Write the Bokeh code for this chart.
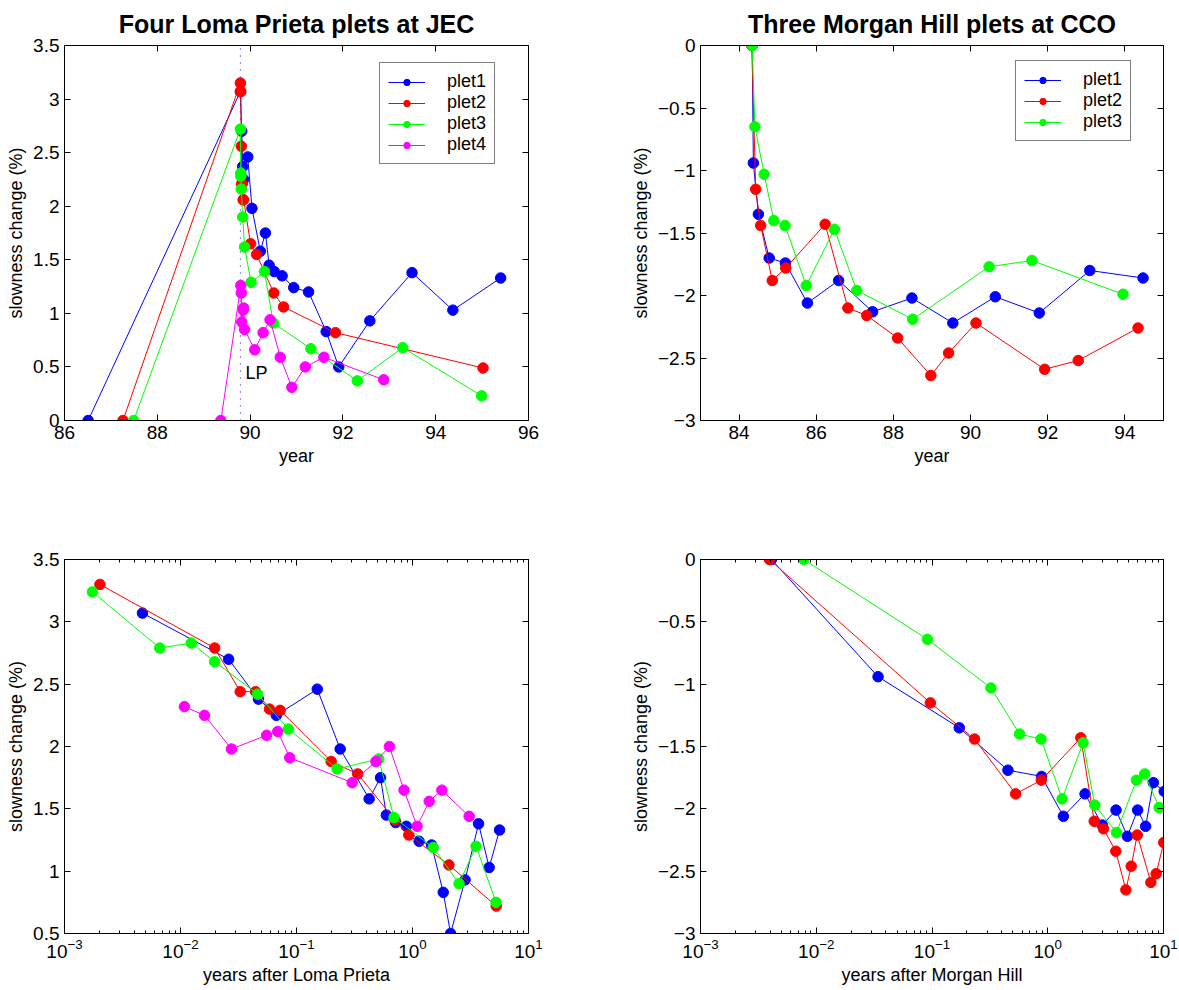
from bokeh.plotting import figure
from bokeh.models import (FixedTicker, LinearAxis, LogAxis, Legend, LegendItem,
                          Range1d, CustomJSTickFormatter, Label)
from bokeh.layouts import gridplot
from bokeh.embed import file_html
from bokeh.resources import INLINE

FONT = "Liberation Sans"

# ---------------- data: Loma Prieta plets at JEC (decimal year) ----------------
LP_YEAR = 89.79
jec1_year = [86.51, 89.79, 89.82, 89.84, 89.86, 89.95, 90.04, 90.22, 90.33, 90.41, 90.52,
             90.69, 90.94, 91.26, 91.64, 91.91, 92.58, 93.49, 94.37, 95.40]
jec1_slow = [0, 3.07, 2.70, 2.37, 2.25, 2.46, 1.98, 1.58, 1.75, 1.45, 1.39,
             1.35, 1.24, 1.20, 0.83, 0.50, 0.93, 1.38, 1.03, 1.33]
jec2_year = [87.26, 89.79, 89.80, 89.81, 89.82, 89.83, 89.85, 89.86, 90.01, 90.14, 90.51,
             90.72, 91.84, 95.02]
jec2_slow = [0, 3.15, 3.07, 2.56, 2.21, 2.21, 2.06, 2.06, 1.65, 1.55, 1.19, 1.06, 0.82, 0.49]
jec3_year = [87.49, 89.79, 89.80, 89.80, 89.81, 89.84, 89.88, 90.02, 90.31, 90.50, 91.31,
             92.31, 93.29, 94.99]
jec3_slow = [0, 2.72, 2.28, 2.31, 2.16, 1.90, 1.62, 1.29, 1.39, 0.91, 0.67, 0.37, 0.68, 0.23]
jec4_year = [89.37, 89.80, 89.81, 89.82, 89.85, 89.86, 89.88, 90.10, 90.28, 90.43, 90.65,
             90.90, 91.19, 91.59, 92.88]
jec4_slow = [0, 1.26, 1.19, 0.92, 1.03, 1.05, 0.85, 0.66, 0.82, 0.94, 0.59, 0.31, 0.50, 0.59, 0.38]

# ---------------- data: Morgan Hill plets at CCO (decimal year) ----------------
cco1_year = [84.34, 84.37, 84.50, 84.78, 85.20, 85.77, 86.58, 87.46, 88.48, 89.54, 90.64,
             91.78, 93.09, 94.47]
cco1_slow = [0, -0.94, -1.35, -1.70, -1.74, -2.06, -1.88, -2.13, -2.02, -2.22, -2.01,
             -2.14, -1.80, -1.86]
cco2_year = [84.33, 84.43, 84.56, 84.86, 85.21, 86.23, 86.82, 87.31, 88.11, 88.97, 89.43,
             90.14, 91.92, 92.79, 94.34]
cco2_slow = [0, -1.15, -1.44, -1.88, -1.78, -1.43, -2.10, -2.16, -2.34, -2.64, -2.46,
             -2.22, -2.59, -2.52, -2.26]
cco3_year = [84.34, 84.41, 84.65, 84.90, 85.19, 85.74, 86.47, 87.05, 88.50, 90.48, 91.59, 93.95]
cco3_slow = [0, -0.65, -1.03, -1.40, -1.44, -1.92, -1.47, -1.96, -2.19, -1.77, -1.72, -1.99]

# ---------------- data: years after Loma Prieta ----------------
lp1_t = [0.0047, 0.026, 0.047, 0.067, 0.151, 0.238, 0.423, 0.53, 0.595, 0.716, 0.885,
         1.14, 1.46, 1.84, 2.13, 2.84, 3.71, 4.58, 5.63]
lp1_slow = [3.07, 2.70, 2.38, 2.25, 2.46, 1.98, 1.58, 1.75, 1.45, 1.39, 1.36,
            1.24, 1.21, 0.83, 0.50, 0.93, 1.38, 1.03, 1.33]
lp2_t = [0.00202, 0.0197, 0.0327, 0.0444, 0.0585, 0.0723, 0.199, 0.337, 0.706, 0.929, 2.06, 5.27]
lp2_slow = [3.30, 2.79, 2.44, 2.44, 2.30, 2.29, 1.88, 1.78, 1.41, 1.29, 1.05, 0.72]
lp3_t = [0.00174, 0.00662, 0.0124, 0.0197, 0.0463, 0.0851, 0.224, 0.512, 0.692, 1.51,
         2.52, 3.53, 5.25]
lp3_slow = [3.24, 2.79, 2.83, 2.68, 2.42, 2.14, 1.82, 1.90, 1.43, 1.19, 0.90, 1.20, 0.75]
lp4_t = [0.0108, 0.0161, 0.0275, 0.0553, 0.0689, 0.0875, 0.302, 0.484, 0.632, 0.845,
         1.095, 1.393, 1.79, 3.08]
lp4_slow = [2.32, 2.25, 1.98, 2.09, 2.12, 1.91, 1.71, 1.88, 2.00, 1.65, 1.36, 1.56, 1.65, 1.44]

# ---------------- data: years after Morgan Hill ----------------
mh1_t = [0.0041, 0.0342, 0.172, 0.453, 0.885, 1.364, 2.10, 2.96, 3.89, 4.87, 5.98, 7.01,
         8.17, 10.14]
mh1_slow = [0, -0.94, -1.35, -1.69, -1.74, -2.06, -1.88, -2.13, -2.01, -2.22, -2.01, -2.14,
            -1.79, -1.86]
mh2_t = [0.00394, 0.0968, 0.233, 0.528, 0.88, 1.93, 2.52, 3.03, 3.87, 4.73, 5.26, 5.93,
         7.78, 8.64, 10.05]
mh2_slow = [0, -1.15, -1.44, -1.88, -1.77, -1.43, -2.10, -2.16, -2.34, -2.65, -2.46, -2.21,
            -2.59, -2.52, -2.27]
mh3_t = [0.0078, 0.0912, 0.323, 0.571, 0.875, 1.33, 2.02, 2.55, 3.92, 5.83, 6.88, 9.17]
mh3_slow = [0, -0.64, -1.03, -1.40, -1.44, -1.92, -1.47, -1.97, -2.19, -1.77, -1.72, -1.99]

labels = ["plet1", "plet2", "plet3", "plet4"]
colors = ["#0000ff", "#ff0000", "#00ff00", "#ff00ff"]

tl_xticks = [86, 88, 90, 92, 94, 96]
tl_yticks = [0, 0.5, 1, 1.5, 2, 2.5, 3, 3.5]
tr_xticks = [84, 86, 88, 90, 92, 94]
tr_yticks = [-3, -2.5, -2, -1.5, -1, -0.5, 0]
bl_yticks = [0.5, 1, 1.5, 2, 2.5, 3, 3.5]
log_ticks = [1e-3, 1e-2, 1e-1, 1e0, 1e1]
log_minor = [m * 10.0 ** e for e in range(-3, 1) for m in range(2, 10)]

fmt_code = "return tick.toString().replace('-', '\\u2212');"
TICK_FS = "19px"
LABEL_FS = "18px"


def make_fig(w, h, xr, yr, bl, br, bt, bb, log=False, title=None):
    p = figure(width=w, height=h, x_range=Range1d(*xr), y_range=Range1d(*yr),
               x_axis_type="log" if log else "linear",
               output_backend="svg", toolbar_location=None,
               min_border_left=bl, min_border_right=br, min_border_top=bt,
               min_border_bottom=bb)
    p.grid.visible = False
    p.outline_line_color = "black"
    p.background_fill_color = "white"
    p.border_fill_color = "white"
    if title:
        p.title.text = title
        p.title.align = "center"
        p.title.vertical_align = "top"
        p.title.text_font = FONT
        p.title.text_font_size = "25px"
        p.title.text_font_style = "bold"
        p.title.text_color = "black"
        p.title.standoff = 12
    return p


def style_axis(ax, ticker, show_labels=True, log=False):
    ax.ticker = ticker
    ax.major_tick_in = 6
    ax.major_tick_out = 0
    ax.minor_tick_in = 3
    ax.minor_tick_out = 0
    ax.axis_line_color = "black"
    ax.major_tick_line_color = "black"
    ax.minor_tick_line_color = "black"
    ax.major_label_text_font = FONT
    ax.axis_label_text_font = FONT
    ax.axis_label_text_font_style = "normal"
    ax.axis_label_text_font_size = LABEL_FS
    ax.axis_label_text_color = "black"
    ax.major_label_standoff = 5
    ax.axis_label_standoff = 4
    if not log:
        ax.formatter = CustomJSTickFormatter(code=fmt_code)
    if show_labels:
        ax.major_label_text_font_size = TICK_FS
        ax.major_label_text_color = "black"
    else:
        # mirrored MATLAB-style box axis: ticks only, labels not drawn
        ax.major_label_text_font_size = "1px"
        ax.major_label_text_color = None
        ax.major_label_standoff = 0


def setup_axes(p, xticks, yticks, xlabel, log=False):
    if log:
        xt = FixedTicker(ticks=log_ticks, minor_ticks=log_minor)
    else:
        xt = FixedTicker(ticks=xticks, minor_ticks=[])
    yt = FixedTicker(ticks=yticks, minor_ticks=[])
    style_axis(p.xaxis[0], xt, log=log)
    style_axis(p.yaxis[0], yt)
    p.xaxis[0].axis_label = xlabel
    p.yaxis[0].axis_label = "slowness change (%)"
    top = LogAxis() if log else LinearAxis()
    style_axis(top, xt, show_labels=False, log=log)
    right = LinearAxis()
    style_axis(right, yt, show_labels=False)
    p.add_layout(top, "above")
    p.add_layout(right, "right")


def add_series(p, xs, ys, n):
    out = []
    for i in range(n):
        lr = p.line(xs[i], ys[i], line_color=colors[i], line_width=1)
        sr = p.scatter(xs[i], ys[i], size=10.5, fill_color=colors[i], line_color=colors[i])
        out.append((lr, sr))
    return out


def add_legend(p, rends, loc):
    items = [LegendItem(label=labels[i], renderers=list(r)) for i, r in enumerate(rends)]
    lg = Legend(items=items, location=loc)
    lg.border_line_color = "black"
    lg.border_line_width = 1
    lg.background_fill_color = "white"
    lg.background_fill_alpha = 1
    lg.label_text_font = FONT
    lg.label_text_font_size = "18px"
    lg.label_text_color = "black"
    lg.glyph_width = 37
    lg.glyph_height = 16
    lg.label_height = 16
    lg.label_standoff = 22
    lg.spacing = 0
    lg.padding = 8
    lg.margin = 0
    p.add_layout(lg, "center")


# ---------------- top-left ----------------
p1 = make_fig(590, 480, (86, 96), (0, 3.5), 64, 62, 45, 60,
              title="Four Loma Prieta plets at JEC")
setup_axes(p1, tl_xticks, tl_yticks, "year")
p1.line([LP_YEAR, LP_YEAR], [tl_yticks[0], tl_yticks[-1]], line_color="#0000ff",
        line_width=1, line_dash="1 6")
r1 = add_series(p1, [jec1_year, jec2_year, jec3_year, jec4_year],
                [jec1_slow, jec2_slow, jec3_slow, jec4_slow], 4)
add_legend(p1, r1, (315, 256))
p1.add_layout(Label(x=89.90, y=0.44, text="LP", text_font=FONT, text_font_size="18px",
                    text_color="black", text_baseline="alphabetic"))

# ---------------- top-right ----------------
p2 = make_fig(589, 480, (83, 95), (-3, 0), 110, 16, 45, 60,
              title="Three Morgan Hill plets at CCO")
setup_axes(p2, tr_xticks, tr_yticks, "year")
r2 = add_series(p2, [cco1_year, cco2_year, cco3_year],
                [cco1_slow, cco2_slow, cco3_slow], 3)
add_legend(p2, r2, (315, 279))

# ---------------- bottom-left ----------------
p3 = make_fig(590, 510, (1e-3, 1e1), (0.5, 3.5), 64, 62, 79, 57, log=True)
setup_axes(p3, None, bl_yticks, "years after Loma Prieta", log=True)
add_series(p3, [lp1_t, lp2_t, lp3_t, lp4_t], [lp1_slow, lp2_slow, lp3_slow, lp4_slow], 4)

# ---------------- bottom-right ----------------
p4 = make_fig(589, 510, (1e-3, 1e1), (-3, 0), 110, 16, 79, 57, log=True)
setup_axes(p4, None, tr_yticks, "years after Morgan Hill", log=True)
add_series(p4, [mh1_t, mh2_t, mh3_t], [mh1_slow, mh2_slow, mh3_slow], 3)

layout = gridplot([[p1, p2], [p3, p4]], toolbar_location=None)

with open("out.html", "w") as f:
    f.write(file_html(layout, INLINE))
